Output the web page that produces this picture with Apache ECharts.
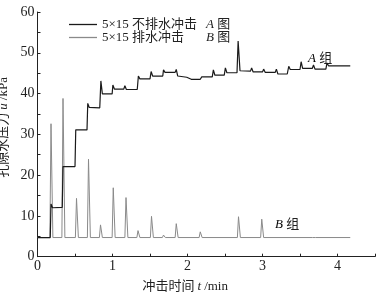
<!DOCTYPE html>
<html lang="zh">
<head>
  <meta charset="UTF-8">
  <title>孔隙水压力</title>
  <style>
    html,body{margin:0;padding:0;background:#fff;}
    #main{width:379px;height:295px;}
  </style>
</head>
<body>
  <div id="main"></div>
  <script src="https://cdn.jsdelivr.net/npm/echarts@6/dist/echarts.min.js"></script>
  <script>
    const FONT = "'Liberation Serif', 'Noto Sans CJK SC', serif";

    // A 组：5×15 不排水冲击
    const tA = [0, 0.17, 0.18, 0.20, 0.33, 0.34, 0.50, 0.51, 0.66, 0.67, 0.69, 0.83, 0.845, 0.865,
      0.995, 1.005, 1.025, 1.15, 1.165, 1.185, 1.33, 1.345, 1.365, 1.50, 1.515, 1.535, 1.67, 1.68,
      1.70, 1.835, 1.85, 1.87, 1.99, 2.05, 2.17, 2.19, 2.33, 2.345, 2.365, 2.49, 2.505, 2.525, 2.66,
      2.675, 2.70, 2.84, 2.855, 2.875, 3.00, 3.015, 3.035, 3.17, 3.185, 3.205, 3.33, 3.35, 3.37,
      3.50, 3.515, 3.535, 3.665, 3.68, 3.70, 3.845, 3.86, 3.88, 4.17];
    const vA = [4.7, 4.7, 12.9, 12.0, 12.1, 22.1, 22.1, 31.1, 31.1, 37.6, 36.6, 36.5, 43.1, 39.9,
      39.9, 42.1, 41.1, 41.1, 41.9, 41.0, 41.0, 44.3, 43.6, 43.6, 45.4, 44.3, 44.3, 45.8,
      45.2, 45.2, 45.9, 44.3, 44.0, 43.5, 43.5, 44.1, 44.1, 45.8, 44.5, 44.5, 46.3, 45.1, 45.1,
      52.9, 45.6, 45.5, 46.3, 45.3, 45.3, 46.0, 45.2, 45.2, 46.0, 44.8, 44.8, 46.7, 45.9,
      45.9, 47.8, 46.2, 46.2, 47.0, 46.0, 46.0, 47.5, 46.8, 46.8];

    // B 组：5×15 排水冲击
    const tB = [0, 0.165, 0.18, 0.205, 0.325, 0.34, 0.365, 0.505, 0.52, 0.545, 0.665, 0.68, 0.705,
      0.825, 0.84, 0.865, 0.995, 1.01, 1.035, 1.165, 1.18, 1.205, 1.325, 1.34, 1.365, 1.505, 1.52,
      1.545, 1.665, 1.68, 1.705, 1.835, 1.85, 1.875, 2.155, 2.17, 2.195, 2.665, 2.68, 2.705, 2.975,
      2.99, 3.015, 3.665, 3.68, 3.705, 4.17];
    const vB = [4.7, 4.7, 32.6, 4.7, 4.7, 38.8, 4.7, 4.7, 14.3, 4.7, 4.7, 23.9, 4.7,
      4.7, 7.8, 4.7, 4.7, 16.9, 4.7, 4.7, 14.5, 4.7, 4.7, 6.4, 4.7, 4.7, 9.9,
      4.7, 4.7, 5.3, 4.7, 4.7, 8.1, 4.7, 4.7, 6.1, 4.7, 4.7, 9.8, 4.7, 4.7,
      9.2, 4.7, 4.7, 5.1, 4.7, 4.7];

    const nameA = '5×15 不排水冲击 A 图';
    const nameB = '5×15 排水冲击 B 图';

    const chart = echarts.init(document.querySelector('#main'));
    const italic = {fontFamily: FONT, fontStyle: 'italic', fontSize: 13, color: '#222'};
    const plain = {fontFamily: FONT, fontSize: 13, color: '#222'};

    const option = {
      animation: false,
      textStyle: {fontFamily: FONT},
      grid: {left: 37.5, right: 4, top: 12, bottom: 38.3, outerBoundsMode: 'none', containLabel: false},
      legend: {
        orient: 'vertical',
        left: 64,
        top: 13,
        icon: 'rect',
        itemWidth: 28,
        itemHeight: 1.3,
        itemGap: 0,
        data: [nameA, nameB],
        formatter: function (name) {
          if (name === nameA) return '{n|5×15 不排水冲击}{i|A} {c|图}';
          return '{n|5×15 排水冲击}{i|B} {c|图}';
        },
        textStyle: {
          fontFamily: FONT, fontSize: 13, color: '#222', lineHeight: 13,
          rich: {
            n: Object.assign({width: 104, lineHeight: 13}, plain),
            i: Object.assign({lineHeight: 13}, italic),
            c: Object.assign({lineHeight: 13}, plain)
          }
        }
      },
      xAxis: {
        type: 'value',
        min: 0, max: 4.5, interval: 1,
        name: '{c|冲击时间} {i|t} {c|/min}',
        nameLocation: 'middle',
        nameGap: 23,
        nameTextStyle: {
          padding: [0, 42, 0, 0],
          rich: {c: plain, i: italic}
        },
        axisLine: {lineStyle: {color: '#222', width: 1}},
        axisTick: {inside: true, length: 3, lineStyle: {color: '#222'}},
        minorTick: {show: true, splitNumber: 2, length: 3, lineStyle: {color: '#222'}},
        axisLabel: {fontFamily: FONT, fontSize: 14, color: '#222', margin: 3, showMaxLabel: false},
        splitLine: {show: false}
      },
      yAxis: {
        type: 'value',
        min: 0, max: 60, interval: 10,
        name: '{c|孔隙水压力} {i|u} {c|/kPa}',
        nameLocation: 'middle',
        nameRotate: 90,
        nameGap: 24,
        nameTextStyle: {
          padding: [0, 0, 0, 14],
          rich: {c: plain, i: italic}
        },
        axisLine: {show: true, lineStyle: {color: '#222', width: 1}},
        axisTick: {show: true, inside: true, length: 3, lineStyle: {color: '#222'}},
        minorTick: {show: true, splitNumber: 2, length: 3, lineStyle: {color: '#222'}},
        axisLabel: {fontFamily: FONT, fontSize: 14, color: '#222', margin: 3},
        splitLine: {show: false}
      },
      series: [
        {
          name: nameB,
          type: 'line',
          symbol: 'none',
          z: 2,
          lineStyle: {color: '#8a8a8a', width: 1},
          itemStyle: {color: '#8a8a8a'},
          data: tB.map((t, i) => [t, vB[i]])
        },
        {
          name: nameA,
          type: 'line',
          symbol: 'none',
          z: 3,
          lineStyle: {color: '#1a1a1a', width: 1.2},
          itemStyle: {color: '#1a1a1a'},
          data: tA.map((t, i) => [t, vA[i]])
        }
      ],
      graphic: [
        {
          type: 'text', left: 308, top: 52,
          style: {text: '{i|A} {c|组}', rich: {i: italic, c: {fontFamily: FONT, fontSize: 13, fill: '#222'}}}
        },
        {
          type: 'text', left: 275, top: 218,
          style: {text: '{i|B} {c|组}', rich: {i: italic, c: {fontFamily: FONT, fontSize: 13, fill: '#222'}}}
        }
      ]
    };
    chart.setOption(option);
  </script>
</body>
</html>
